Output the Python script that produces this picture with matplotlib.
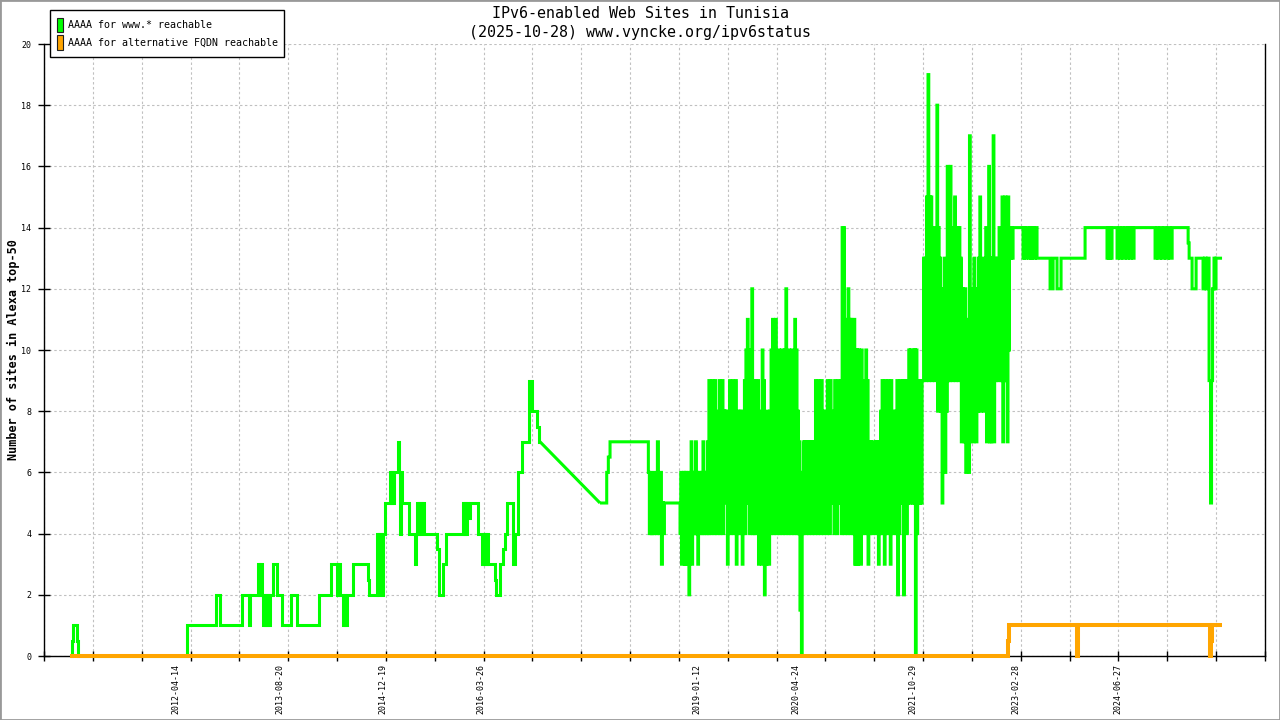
import numpy as np
import matplotlib
matplotlib.use("Agg")
import matplotlib.pyplot as plt
from matplotlib.patches import Rectangle
from datetime import date

plt.rcParams['font.family'] = ['DejaVu Sans Mono', 'DejaVu Sans']

# ---- data (x in decimal years) ----
title1 = "IPv6-enabled Web Sites in Tunisia"
title2 = "(2025-10-28) www.vyncke.org/ipv6status"
ylabel = "Number of sites in Alexa top-50"
legend_labels = ["AAAA for www.* reachable", "AAAA for alternative FQDN reachable"]

x_labels = ["2012-04-14", "2013-08-20", "2014-12-19", "2016-03-26", "2019-01-12",
            "2020-04-24", "2021-10-29", "2023-02-28", "2024-06-27"]

# www.* reachable, before the 2017 gap in the measurements
www_early_t = [2010.916, 2010.941, 2010.954, 2011.006, 2011.019, 2012.426, 2012.802, 2012.853, 2013.146, 2013.233,
               2013.246, 2013.345, 2013.358, 2013.371, 2013.397, 2013.414, 2013.427, 2013.440, 2013.453, 2013.466,
               2013.479, 2013.492, 2013.505, 2013.539, 2013.599, 2013.656, 2013.776, 2013.850, 2014.139, 2014.294,
               2014.372, 2014.385, 2014.411, 2014.450, 2014.463, 2014.476, 2014.498, 2014.583, 2014.773, 2014.790,
               2014.886, 2014.899, 2014.912, 2014.925, 2014.938, 2014.951, 2014.964, 2014.993, 2015.058, 2015.071,
               2015.084, 2015.097, 2015.110, 2015.158, 2015.178, 2015.187, 2015.196, 2015.209, 2015.308, 2015.378,
               2015.391, 2015.404, 2015.417, 2015.430, 2015.443, 2015.456, 2015.469, 2015.482, 2015.498, 2015.670,
               2015.688, 2015.748, 2015.783, 2016.007, 2016.020, 2016.033, 2016.046, 2016.059, 2016.072, 2016.094,
               2016.201, 2016.245, 2016.258, 2016.271, 2016.284, 2016.297, 2016.310, 2016.323, 2016.417, 2016.430,
               2016.482, 2016.525, 2016.547, 2016.569, 2016.654, 2016.676, 2016.719, 2016.763, 2016.861, 2016.892,
               2016.965, 2016.980, 2017.000]
www_early_v = [0, 0.5, 1, 0.5, 0, 1, 2, 1, 2, 1,
               2, 3, 2, 3, 2, 1, 2, 1, 2, 1,
               2, 1, 2, 3, 2, 1, 2, 1, 2, 3,
               2, 3, 2, 1, 2, 1, 2, 3, 2.5, 2,
               4, 2, 4, 2.5, 4, 2, 4, 5, 6, 5,
               6, 5, 6, 7, 6, 4, 6, 5, 4, 3,
               4, 5, 4, 5, 4, 5, 4.5, 5, 4, 3.5,
               2, 3, 4, 5, 4, 5, 4, 5, 4.5, 5,
               4, 3, 4, 3, 4, 3, 4, 3, 2.5, 2,
               3, 3.5, 4, 5, 3, 4, 6, 7, 9, 8,
               7.5, 7, 7]

# after the gap
www_mid_t = [2017.776, 2017.863, 2017.884, 2017.906, 2018.402, 2018.415, 2018.428, 2018.441, 2018.454, 2018.467,
             2018.480, 2018.493, 2018.506, 2018.519, 2018.532, 2018.545, 2018.558, 2018.571, 2018.584, 2018.597,
             2018.610]
www_mid_v = [5, 6, 6.5, 7, 6, 4, 6, 4, 5, 4,
             6, 5, 4, 7, 5, 4, 6, 3, 5, 4,
             5]

# noisy stretch 2018-2023: weekly lowest / highest reading
www_noisy_start = 2018.812
www_noisy_step = 7 / 365.25
www_noisy_lo = [4, 3, 4, 3, 3, 4, 2, 4, 3, 4,
                4, 4, 3, 4, 5, 4, 4, 5, 4, 4,
                5, 4, 5, 4, 5, 4, 5, 4, 5, 4,
                6, 5, 3, 5, 4, 5, 4, 5, 3, 5,
                4, 5, 3, 5, 4, 5, 5, 4, 5, 4,
                4, 5, 4, 3, 4, 3, 4, 2, 3, 4,
                3, 4, 5, 4, 5, 4, 5, 4, 5, 4,
                5, 4, 5, 4, 5, 4, 5, 4, 5, 4,
                4, 1.5, 0, 4, 5, 4, 5, 4, 5, 4,
                5, 4, 5, 4, 5, 4, 5, 4, 5, 4,
                5, 4, 5, 5, 4, 5, 4, 5, 5, 4,
                5, 4, 5, 4, 5, 4, 5, 4, 3, 3,
                3, 4, 3, 4, 5, 4, 5, 3, 4, 5,
                4, 5, 4, 5, 3, 4, 5, 4, 3, 5,
                4, 5, 3, 5, 4, 5, 4, 2, 4, 5,
                5, 2, 5, 4, 5, 5, 6, 5, 5, 0,
                4, 5, 5, 5, 9, 10, 9, 10, 9, 10,
                9, 10, 9, 10, 8, 9, 8, 5, 8, 6,
                8, 9, 9, 10, 9, 10, 9, 10, 9, 10,
                7, 8, 7, 6, 7, 6, 7, 8, 7, 8,
                7, 8, 9, 8, 9, 8, 9, 7, 8, 7,
                7, 8, 7, 9, 10, 9, 10, 9, 7, 9,
                9, 7, 10, 13]
www_noisy_hi = [6, 5, 6, 6, 5, 6, 5, 7, 6, 6,
                7, 6, 6, 5, 6, 7, 6, 6, 7, 9,
                8, 9, 8, 9, 7, 8, 9, 8, 9, 8,
                8, 8, 7, 9, 8, 9, 8, 9, 7, 8,
                8, 7, 8, 9, 10, 11, 9, 10, 12, 9,
                9, 8, 9, 7, 8, 10, 9, 7, 8, 7,
                8, 10, 11, 10, 11, 9, 10, 9, 10, 9,
                10, 12, 9, 10, 9, 10, 9, 11, 10, 8,
                7, 6, 5, 7, 7, 6, 7, 7, 6, 7,
                7, 9, 8, 9, 8, 9, 8, 7, 8, 9,
                8, 9, 8, 7, 9, 8, 9, 8, 9, 14,
                14, 10, 11, 12, 11, 11, 10, 11, 10, 10,
                10, 9, 10, 9, 8, 10, 9, 7, 7, 6,
                7, 6, 7, 7, 6, 8, 9, 8, 9, 8,
                9, 8, 9, 8, 7, 8, 9, 8, 9, 8,
                9, 9, 8, 9, 10, 10, 9, 10, 10, 10,
                9, 7, 9, 9, 13, 13, 15, 19, 15, 15,
                13, 14, 13, 18, 14, 13, 12, 11, 13, 12,
                16, 13, 16, 13, 14, 15, 13, 14, 14, 13,
                12, 11, 12, 11, 10, 17, 12, 11, 13, 12,
                12, 13, 15, 12, 13, 12, 14, 12, 16, 13,
                13, 17, 13, 12, 13, 14, 13, 15, 14, 15,
                14, 15, 14, 14]

www_late_t = [2023.110, 2023.123, 2023.252, 2023.265, 2023.278, 2023.297, 2023.330, 2023.343, 2023.356, 2023.369,
              2023.395, 2023.408, 2023.433, 2023.602, 2023.641, 2023.692, 2023.744, 2024.055, 2024.339, 2024.352,
              2024.365, 2024.378, 2024.391, 2024.404, 2024.469, 2024.488, 2024.508, 2024.527, 2024.547, 2024.573,
              2024.592, 2024.612, 2024.631, 2024.651, 2024.670, 2024.689, 2024.961, 2024.981, 2025.000, 2025.026,
              2025.052, 2025.078, 2025.104, 2025.130, 2025.156, 2025.182, 2025.389, 2025.402, 2025.440, 2025.492,
              2025.582, 2025.601, 2025.621, 2025.640, 2025.660, 2025.679, 2025.692, 2025.705, 2025.724, 2025.737,
              2025.750, 2025.828]
www_late_v = [13, 14, 13, 14, 13, 14, 13, 14, 13, 14,
              13, 14, 13, 12, 13, 12, 13, 14, 13, 14,
              13, 14, 13, 14, 13, 14, 13, 14, 13, 14,
              13, 14, 13, 14, 13, 14, 13, 14, 13, 14,
              13, 14, 13, 14, 13, 14, 13.5, 13, 12, 13,
              12, 13, 12, 13, 9, 5, 9, 12, 13, 12,
              13, 13]

# alternative FQDN reachable
fqdn_t = [2010.916, 2023.058, 2023.071, 2023.945, 2023.952, 2023.958, 2023.964,
          2025.667, 2025.673, 2025.686, 2025.699, 2025.828]
fqdn_v = [0, 0.5, 1, 0.5, 0, 0.5, 1, 0.5, 0, 0.5, 1, 1]


def dec_year(s):
    d = date.fromisoformat(s)
    y0 = date(d.year, 1, 1)
    return d.year + (d - y0).days / (date(d.year + 1, 1, 1) - y0).days


green = '#00ff00'
orange = '#ffa500'
W, H = 1280, 720

fig = plt.figure(figsize=(12.8, 7.2), dpi=100)
ax = fig.add_axes([44 / W, 64 / H, 1221 / W, 612 / H])

# weekly low/high pairs -> half-week steps
noisy_v = np.column_stack([www_noisy_lo, www_noisy_hi]).ravel()
noisy_t = www_noisy_start + www_noisy_step / 2 * np.arange(len(noisy_v))
after_t = np.concatenate([www_mid_t, noisy_t, www_late_t])
after_v = np.concatenate([www_mid_v, noisy_v, www_late_v])

kw = dict(color=green, lw=2.2, solid_joinstyle='miter', solid_capstyle='butt', zorder=3, clip_on=False)
ax.plot(www_early_t, www_early_v, drawstyle='steps-post', **kw)
ax.plot([www_early_t[-1], www_mid_t[0]], [www_early_v[-1], www_mid_v[0]], **kw)
ax.plot(after_t, after_v, drawstyle='steps-post', **kw)
ax.plot(fqdn_t, fqdn_v, drawstyle='steps-post', color=orange, lw=2.9,
        solid_joinstyle='miter', solid_capstyle='butt', zorder=4, clip_on=False)

# axes
x0, step = 2010.579, 0.6322
ax.set_xlim(x0, x0 + 25 * step)
ax.set_ylim(0, 20)
ax.set_yticks(np.arange(0, 21, 2))
ax.set_xticks(x0 + step * np.arange(26), minor=True)
ax.set_xticks([dec_year(s) for s in x_labels], x_labels, rotation=90)
ax.tick_params(axis='x', which='major', length=0, pad=6, labelsize=6)
ax.tick_params(axis='x', which='minor', direction='inout', length=7, width=1)
ax.tick_params(axis='y', direction='inout', length=8, width=1, labelsize=6, pad=5)

grid_kw = dict(color='#c0c0c0', lw=0.8, linestyle=(0, (2.2, 2.2)))
ax.grid(which='minor', axis='x', **grid_kw)
ax.grid(which='major', axis='y', **grid_kw)
ax.set_axisbelow(True)
ax.spines['top'].set_visible(False)
for s in ['left', 'right', 'bottom']:
    ax.spines[s].set_linewidth(1.0)

# titles
fig.text(0.5, 1 - 13 / H, title1, ha='center', va='center', fontsize=10.8)
fig.text(0.5, 1 - 32 / H, title2, ha='center', va='center', fontsize=10.8)
fig.text(13 / W, 1 - 350 / H, ylabel, rotation=90, ha='center', va='center',
         fontsize=8.5, fontweight='bold')

# legend box
fig.patches.append(Rectangle((50 / W, 1 - 57 / H), 234 / W, 47 / H, transform=fig.transFigure,
                             facecolor='white', edgecolor='black', lw=1.0, zorder=5))
for i, (lab, col) in enumerate(zip(legend_labels, [green, orange])):
    yc = 25 + 17.5 * i
    fig.patches.append(Rectangle((56.5 / W, 1 - (yc + 7) / H), 6 / W, 14 / H, transform=fig.transFigure,
                                 facecolor=col, edgecolor='#202020', lw=0.8, zorder=6))
    fig.text(67.5 / W, 1 - yc / H, lab, ha='left', va='center', fontsize=7.2, zorder=7)

# image border
fig.patches.append(Rectangle((0, 0), 1, 1, transform=fig.transFigure, fill=False,
                             edgecolor='#999999', lw=2, zorder=8))

fig.savefig("out.png", dpi=100)
